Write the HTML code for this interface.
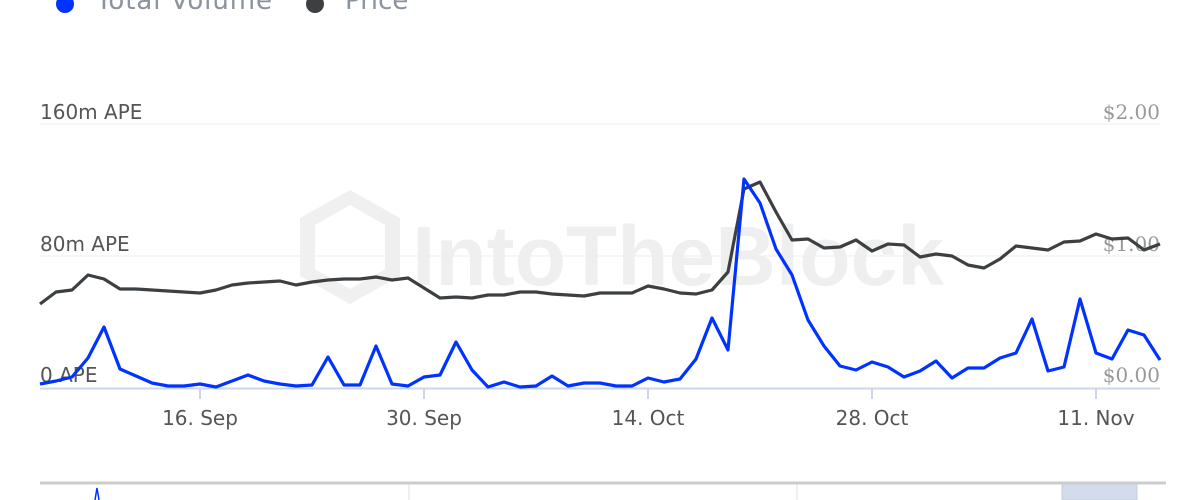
<!DOCTYPE html>
<html><head><meta charset="utf-8"><style>
body{margin:0;background:#fff;width:1200px;height:500px;overflow:hidden}
svg{display:block;font-family:"DejaVu Sans","Liberation Sans",sans-serif}
</style></head><body>
<svg width="1200" height="500" viewBox="0 0 1200 500">
<!-- legend -->
<circle cx="65" cy="4" r="9" fill="#0033ff"/>
<text x="96" y="9" font-size="26" fill="#8a939e" textLength="176">Total Volume</text>
<circle cx="315" cy="4" r="9" fill="#3c4043"/>
<text x="345" y="9" font-size="26" fill="#8a939e">Price</text>
<!-- watermark -->
<g opacity="0.06" fill="#000">
<text x="412" y="285" font-size="84" font-weight="bold" font-family="Liberation Sans,sans-serif">IntoTheBlock</text>
<path d="M350 190 L400 218 L400 276 L350 304 L300 276 L300 218 Z M350 205 L315 225 L315 269 L350 289 L385 269 L385 225 Z" fill-rule="evenodd"/>
</g>
<!-- grid -->
<line x1="40" y1="124" x2="1160" y2="124" stroke="#eeeeee" stroke-width="1"/>
<line x1="40" y1="256" x2="1160" y2="256" stroke="#eeeeee" stroke-width="1"/>
<!-- y labels -->
<g font-size="20" fill="#555">
<text x="40" y="119">160m APE</text>
<text x="40" y="251">80m APE</text>
<text x="40" y="382">0 APE</text>
</g>
<g font-size="20" fill="#999" text-anchor="end" font-family="DejaVu Serif,serif">
<text x="1160" y="119">$2.00</text>
<text x="1160" y="251">$1.00</text>
<text x="1160" y="382">$0.00</text>
</g>
<!-- axis -->
<line x1="40" y1="388.5" x2="1160" y2="388.5" stroke="#ccd6eb" stroke-width="2"/>
<g stroke="#ccd6eb" stroke-width="2">
<line x1="200" y1="388" x2="200" y2="399"/><line x1="424" y1="388" x2="424" y2="399"/>
<line x1="648" y1="388" x2="648" y2="399"/><line x1="872" y1="388" x2="872" y2="399"/>
<line x1="1096" y1="388" x2="1096" y2="399"/>
</g>
<g font-size="20" fill="#555" text-anchor="middle">
<text x="200" y="425">16. Sep</text><text x="424" y="425">30. Sep</text>
<text x="648" y="425">14. Oct</text><text x="872" y="425">28. Oct</text>
<text x="1096" y="425">11. Nov</text>
</g>
<!-- price -->
<polyline fill="none" stroke="#3c4043" stroke-width="3.2" stroke-linejoin="round" points="40,304 56,292 72,290 88,275 104,279 120,289 136,289 152,290 168,291 184,292 200,293 216,290 232,285 248,283 264,282 280,281 296,285 312,282 328,280 344,279 360,279 376,277 392,280 408,278 424,288 440,298 456,297 472,298 488,295 504,295 520,292 536,292 552,294 568,295 584,296 600,293 616,293 632,293 648,286 664,289 680,293 696,294 712,290 728,272 744,189 760,182 776,212 792,240 808,239 824,248 840,247 856,240 872,251 888,244 904,245 920,257 936,254 952,256 968,265 984,268 1000,259 1016,246 1032,248 1048,250 1064,242 1080,241 1096,234 1112,239 1128,238 1144,250 1160,244"/>
<!-- volume -->
<polyline fill="none" stroke="#0033ff" stroke-width="3.2" stroke-linejoin="round" points="40,384 56,381 72,377 88,358 104,327 120,369 136,376 152,383 168,386 184,386 200,384 216,387 232,381 248,375 264,381 280,384 296,386 312,385 328,357 344,385 360,385 376,346 392,384 408,386 424,377 440,375 456,342 472,370 488,387 504,382 520,387 536,386 552,376 568,386 584,383 600,383 616,386 632,386 648,378 664,382 680,379 696,359 712,318 728,350 744,179 760,203 776,249 792,275 808,320 824,346 840,366 856,370 872,362 888,367 904,377 920,371 936,361 952,378 968,368 984,368 1000,358 1016,353 1032,319 1048,371 1064,367 1080,299 1096,353 1112,359 1128,330 1144,335 1160,360"/>
<!-- navigator -->
<rect x="1062" y="484" width="75" height="16" fill="#d3dcec" stroke="#c5cede"/>
<line x1="409" y1="484" x2="409" y2="500" stroke="#e0e0e0" stroke-width="1"/>
<line x1="797" y1="484" x2="797" y2="500" stroke="#e0e0e0" stroke-width="1"/>
<line x1="40" y1="483" x2="1166" y2="483" stroke="#cccccc" stroke-width="3"/>
<polyline fill="none" stroke="#0033ff" stroke-width="1.5" points="95,500 97,488 99,500"/>
</svg>
</body></html>
